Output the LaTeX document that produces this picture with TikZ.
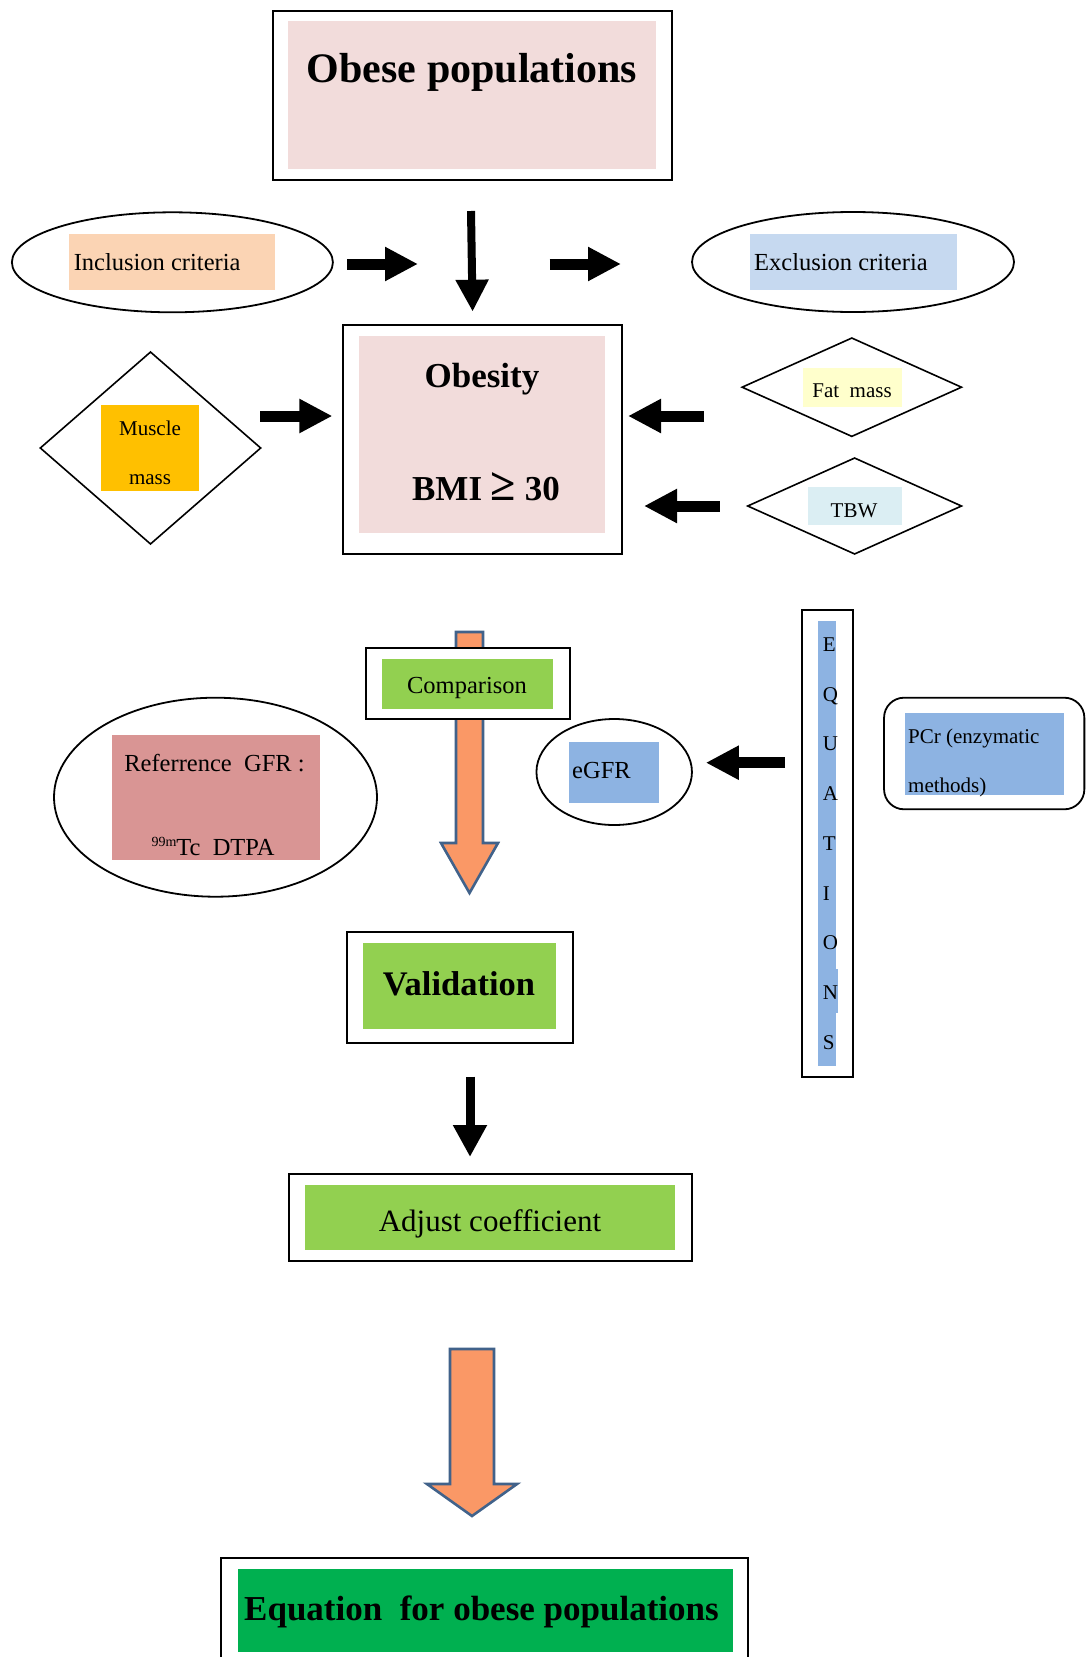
\documentclass[tikz,border=0pt]{standalone}
\usepackage{fontspec}
\setmainfont{Liberation Serif}
\usetikzlibrary{arrows.meta,shapes.geometric}

\definecolor{pinkfill}{RGB}{242,220,219}
\definecolor{peach}{RGB}{251,212,180}
\definecolor{paleblue}{RGB}{198,217,240}
\definecolor{amber}{RGB}{255,192,0}
\definecolor{paleyellow}{RGB}{255,255,204}
\definecolor{paleteal}{RGB}{219,238,243}
\definecolor{lgreen}{RGB}{146,208,80}
\definecolor{rose}{RGB}{217,149,148}
\definecolor{midblue}{RGB}{141,179,226}
\definecolor{dgreen}{RGB}{0,176,80}
\definecolor{orangearrow}{RGB}{250,152,102}
\definecolor{arrowedge}{RGB}{65,98,138}

\newcommand{\fs}[1]{\fontsize{#1}{#1}\selectfont}

\tikzset{
  frame/.style={draw=black, line width=2pt, rectangle, inner sep=0pt, fill=white},
  fillbox/.style={rectangle, inner sep=0pt, draw=none},
  oval/.style={draw=black, line width=1.8pt, ellipse, inner sep=0pt, fill=white},
  rhomb/.style={draw=black, line width=1.6pt, diamond, inner sep=0pt, fill=white},
  lbl/.style={inner sep=0pt, text=black},
  blk/.style={draw=black, line width=11pt, -{Triangle[width=32pt,length=33pt]}},
  blkthin/.style={draw=black, line width=8pt, -{Triangle[width=31pt,length=32pt]}},
  fatarrow/.style={fill=orangearrow, draw=arrowedge, line width=2.6pt, line join=miter}
}

\begin{document}
\begin{tikzpicture}[x=1pt,y=-1pt]
\useasboundingbox (0,0) rectangle (1086,1657);
\clip (0,0) rectangle (1086,1657);
\fill[white] (0,0) rectangle (1086,1657);

% Top box
\node[frame, minimum width=399.5pt, minimum height=169pt] (obeseBox) at (472.25,95) {};
\node[fillbox, fill=pinkfill, minimum width=367.6pt, minimum height=148pt] (obeseFill) at (472.2,95) {};
\node[lbl, font=\fs{42}\bfseries] (obeseTxt) at (472,72) {Obese populations};

% Inclusion / Exclusion
\node[oval, minimum width=321pt, minimum height=100pt] (incl) at (172.4,262.3) {};
\node[fillbox, fill=peach, minimum width=206pt, minimum height=56pt] (inclFill) at (172.45,262) {};
\node[lbl, anchor=west, font=\fs{24.5}] (inclTxt) at (73.6,262.3) {Inclusion criteria};

\node[oval, minimum width=322pt, minimum height=100pt] (excl) at (853,262) {};
\node[fillbox, fill=paleblue, minimum width=207pt, minimum height=56pt] (exclFill) at (853.5,262) {};
\node[lbl, anchor=west, font=\fs{24.5}] (exclTxt) at (754,262.3) {Exclusion criteria};

\coordinate (a1s) at (347,264); \coordinate (a1e) at (418,264);
\coordinate (a2s) at (549.6,264); \coordinate (a2e) at (621,264);
\coordinate (a3s) at (471,211); \coordinate (a3e) at (472.6,311.7);
\draw[blk] (a1s) -- (a1e);
\draw[blk] (a2s) -- (a2e);
\draw[blkthin] (a3s) -- (a3e);

% Obesity box
\node[frame, minimum width=278.3pt, minimum height=229.3pt] (obesity) at (482.6,439.6) {};
\node[fillbox, fill=pinkfill, minimum width=245.5pt, minimum height=197.3pt] (obesityFill) at (482.2,434.7) {};
\node[lbl, font=\fs{35}\bfseries] (obesityTxt) at (482,379) {Obesity};
\node[lbl, font=\fs{35}\bfseries] (bmiTxt) at (486,487) {BMI {\fs{46}≥} 30};

% Muscle mass
\node[rhomb, minimum width=221pt, minimum height=192.6pt] (muscle) at (150.5,448) {};
\node[fillbox, fill=amber, minimum width=97.7pt, minimum height=86pt] (muscleFill) at (150.2,448) {};
\node[lbl, font=\fs{21}] (muscleTxt1) at (150,428.3) {Muscle};
\node[lbl, font=\fs{21}] (muscleTxt2) at (150,479.3) {mass};
\coordinate (a4s) at (260,416); \coordinate (a4e) at (332.4,416);
\draw[blk] (a4s) -- (a4e);

% Fat mass
\node[rhomb, minimum width=220pt, minimum height=99pt] (fat) at (851.8,387.2) {};
\node[fillbox, fill=paleyellow, minimum width=98.5pt, minimum height=39pt] (fatFill) at (852.3,387.5) {};
\node[lbl, font=\fs{21}] (fatTxt) at (852,391) {Fat\ \ mass};
\coordinate (a5s) at (704,416); \coordinate (a5e) at (628,416);
\draw[blk] (a5s) -- (a5e);

% TBW
\node[rhomb, minimum width=214.4pt, minimum height=96.6pt] (tbw) at (854.6,506) {};
\node[fillbox, fill=paleteal, minimum width=94.2pt, minimum height=38.3pt] (tbwFill) at (855,505.9) {};
\node[lbl, font=\fs{21}] (tbwTxt) at (854,511) {TBW};
\coordinate (a6s) at (719.6,506); \coordinate (a6e) at (644,506);
\draw[blk] (a6s) -- (a6e);

% Orange arrow 1
\filldraw[fatarrow] (456,632) -- (483,632) -- (483,843) -- (498,843) -- (469.5,893) -- (441,843) -- (456,843) -- cycle;

% Comparison
\node[frame, minimum width=204pt, minimum height=71.3pt] (comp) at (467.7,683.4) {};
\node[fillbox, fill=lgreen, minimum width=171.3pt, minimum height=49.7pt] (compFill) at (467.3,683.9) {};
\node[lbl, font=\fs{24.5}] (compTxt) at (467,688) {Comparison};

% Reference GFR
\node[oval, minimum width=323pt, minimum height=199pt] (refgfr) at (215.5,797.2) {};
\node[fillbox, fill=rose, minimum width=207.6pt, minimum height=124.7pt] (refFill) at (216.2,797.4) {};
\node[lbl, font=\fs{24.5}] (refTxt1) at (214.5,762.7) {Referrence\ \ GFR :};
\node[lbl, font=\fs{24.5}] (refTxt2) at (213,846.7) {\raisebox{9pt}{\fs{14}99m}Tc\ \ DTPA};

% eGFR
\node[oval, minimum width=155.5pt, minimum height=106pt] (egfr) at (614.2,772) {};
\node[fillbox, fill=midblue, minimum width=89.6pt, minimum height=60.7pt] (egfrFill) at (613.8,772.3) {};
\node[lbl, anchor=west, font=\fs{24.5}] (egfrTxt) at (572,770) {eGFR};
\coordinate (a7s) at (785,762.7); \coordinate (a7e) at (705.8,762.7);
\draw[blk] (a7s) -- (a7e);

% EQUATIONS
\node[frame, line width=1.8pt, minimum width=51pt, minimum height=466.7pt] (eqs) at (827.5,843.3) {};
\node[fillbox, fill=midblue, minimum width=18pt, minimum height=444.7pt] (eqsFill) at (827,843.35) {};
\node[fillbox, fill=midblue, minimum width=20pt, minimum height=43.7pt] (eqsFill2) at (828,990.85) {};
\foreach \L [count=\i from 0] in {E,Q,U,A,T,I,O,N,S} {
  \node[lbl, anchor=base west, font=\fs{21}] (eq\i) at (822.7,651.3+49.75*\i) {\L};
}

% PCr
\node[frame, line width=1.8pt, rounded corners=20pt, minimum width=200.3pt, minimum height=111.6pt] (pcr) at (984.2,753.5) {};
\node[fillbox, fill=midblue, minimum width=158.7pt, minimum height=81.4pt] (pcrFill) at (984.4,754) {};
\node[lbl, anchor=base west, font=\fs{21}] (pcrTxt1) at (908,743.3) {PCr (enzymatic};
\node[lbl, anchor=base west, font=\fs{21}] (pcrTxt2) at (908,792.7) {methods)};

% Validation
\node[frame, minimum width=225.5pt, minimum height=111pt] (valid) at (459.75,987.8) {};
\node[fillbox, fill=lgreen, minimum width=193pt, minimum height=86pt] (validFill) at (459.5,986) {};
\node[lbl, font=\fs{34.5}\bfseries] (validTxt) at (459,984) {Validation};
\coordinate (a8s) at (470,1076.5); \coordinate (a8e) at (470,1157);
\draw[draw=black, line width=9pt, -{Triangle[width=32pt,length=32pt]}] (a8s) -- (a8e);

% Adjust coefficient
\node[frame, minimum width=403pt, minimum height=86.7pt] (adjust) at (490.7,1217.7) {};
\node[fillbox, fill=lgreen, minimum width=370pt, minimum height=64.7pt] (adjustFill) at (490,1217.4) {};
\node[lbl, font=\fs{31}] (adjustTxt) at (490,1223.5) {Adjust coefficient};

% Orange arrow 2
\filldraw[fatarrow] (450,1349) -- (494,1349) -- (494,1484) -- (517,1484) -- (472,1516) -- (427,1484) -- (450,1484) -- cycle;

% Final equation box
\node[frame, minimum width=527pt, minimum height=130pt] (final) at (484.5,1623) {};
\node[fillbox, fill=dgreen, minimum width=495pt, minimum height=82.4pt] (finalFill) at (485.5,1610.5) {};
\node[lbl, font=\fs{35}\bfseries] (finalTxt) at (481.5,1612) {Equation\ \ for obese populations};
\end{tikzpicture}
\end{document}
